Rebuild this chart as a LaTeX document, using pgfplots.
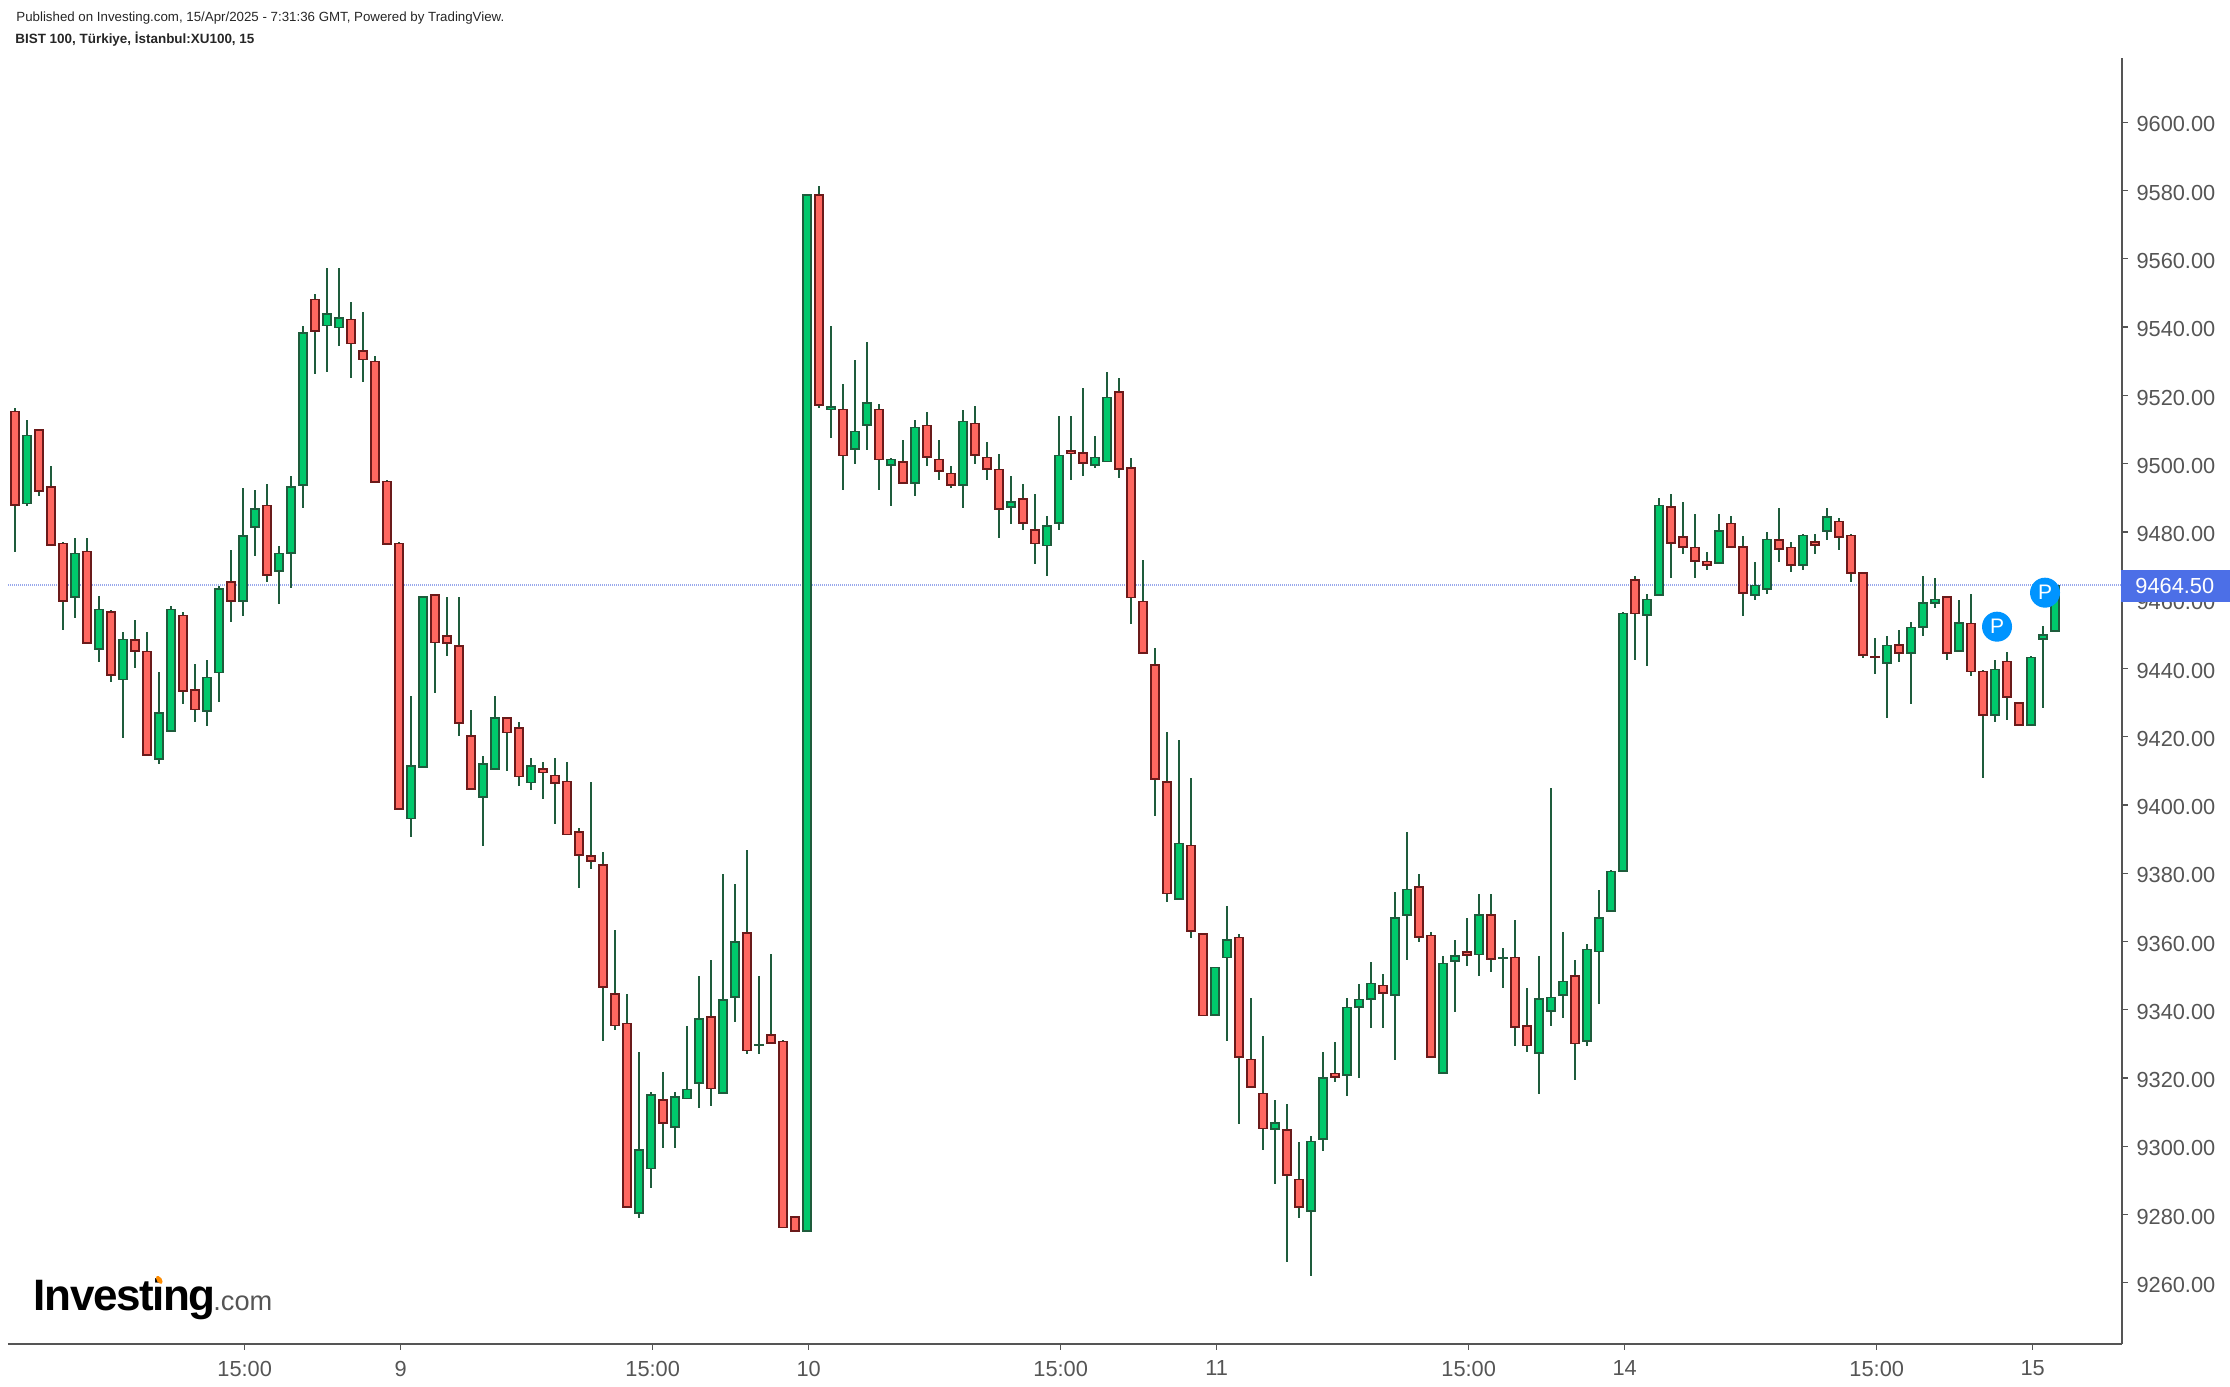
\documentclass[border=0pt]{standalone}
\usepackage{pgfplots}
\usepackage{pgfplotstable}
\usepackage{fontspec}
\pgfplotsset{compat=1.18}
\setmainfont{Liberation Sans}
\newfontfamily\logofont[LetterSpace=-3.2]{Liberation Sans}
\definecolor{gfill}{HTML}{00C96C}
\definecolor{gline}{HTML}{1E5C3C}
\definecolor{rfill}{HTML}{FF6760}
\definecolor{rline}{HTML}{6B1A1A}
\definecolor{axc}{HTML}{555555}
\definecolor{hl}{HTML}{98A8EC}
\definecolor{tag}{HTML}{4C6FE7}
\definecolor{pblue}{HTML}{0094FF}
\pgfplotstableread{
i l b t h
0 9474.1 9487.7 9515.6 9516.3
2 9490.5 9491.7 9510.2 9510.2
3 9476.0 9476.0 9493.4 9499.3
4 9451.3 9459.6 9476.9 9476.9
6 9447.2 9447.2 9474.6 9478.2
8 9436.0 9437.9 9457.0 9457.0
10 9440.1 9444.9 9448.8 9454.2
11 9414.5 9414.5 9445.2 9450.7
14 9429.6 9433.2 9455.8 9456.5
15 9424.2 9427.9 9434.0 9441.3
18 9453.6 9459.6 9465.7 9474.7
21 9465.3 9467.1 9488.0 9494.0
25 9526.2 9538.7 9548.4 9549.7
28 9525.0 9535.1 9542.6 9547.3
29 9523.9 9530.4 9533.3 9544.4
30 9494.6 9494.6 9530.3 9531.5
31 9476.4 9476.4 9495.1 9495.1
32 9398.7 9398.7 9476.9 9476.9
35 9432.7 9447.4 9461.7 9461.7
36 9443.7 9447.3 9449.9 9461.0
37 9420.2 9423.8 9446.9 9461.0
38 9404.6 9404.6 9420.6 9427.9
41 9409.8 9421.1 9425.9 9425.9
42 9405.6 9408.2 9422.9 9424.2
44 9401.6 9409.2 9410.7 9412.5
45 9394.5 9406.2 9409.0 9413.7
46 9391.2 9391.2 9407.2 9412.5
47 9375.7 9385.2 9392.5 9393.1
48 9381.1 9383.4 9385.5 9406.6
49 9330.7 9346.4 9382.6 9386.1
50 9334.1 9335.3 9345.1 9363.3
51 9282.0 9282.0 9336.2 9344.5
54 9299.4 9306.6 9313.9 9321.8
58 9311.9 9316.7 9338.1 9354.5
61 9327.1 9327.8 9362.7 9386.9
63 9330.1 9330.1 9332.8 9356.2
64 9276.0 9276.0 9331.0 9331.0
65 9275.0 9275.0 9279.5 9279.5
67 9516.3 9517.0 9578.9 9581.3
69 9492.2 9502.3 9516.2 9523.3
72 9492.2 9501.1 9516.2 9517.4
74 9494.1 9494.1 9500.9 9506.9
76 9499.3 9501.7 9511.5 9515.1
77 9495.2 9497.6 9501.5 9506.9
78 9492.8 9493.5 9497.4 9499.3
80 9499.9 9502.3 9512.1 9516.9
81 9495.2 9498.2 9502.1 9506.3
82 9478.2 9486.5 9498.6 9502.8
84 9480.5 9482.4 9489.8 9494.0
85 9470.6 9476.5 9481.0 9491.1
88 9495.2 9502.8 9504.0 9513.9
89 9496.3 9500.0 9503.3 9522.1
92 9495.8 9498.2 9521.4 9525.1
93 9453.0 9460.7 9499.2 9501.6
94 9444.3 9444.3 9459.9 9471.7
95 9396.7 9407.4 9441.2 9445.9
96 9371.6 9373.9 9407.2 9421.4
98 9361.0 9363.0 9388.5 9407.8
99 9338.2 9338.2 9362.6 9362.6
102 9306.5 9325.9 9361.5 9362.2
103 9317.2 9317.2 9325.7 9343.5
104 9298.9 9304.9 9315.7 9332.4
106 9266.0 9291.4 9305.1 9312.3
107 9279.0 9282.0 9290.5 9301.2
110 9318.9 9320.1 9321.6 9330.5
114 9334.6 9344.8 9347.4 9350.4
117 9359.8 9361.1 9376.2 9379.7
118 9325.9 9325.9 9362.0 9362.7
121 9352.8 9355.9 9357.3 9366.9
123 9351.1 9354.7 9367.9 9373.9
125 9329.4 9334.7 9355.6 9366.3
126 9327.6 9329.4 9335.7 9346.3
130 9319.4 9330.0 9350.3 9354.5
135 9442.5 9456.0 9466.4 9467.1
138 9466.5 9476.5 9487.5 9491.1
139 9473.5 9475.4 9478.7 9488.8
140 9466.5 9471.3 9475.8 9485.2
141 9468.8 9470.1 9471.7 9474.1
143 9475.4 9475.4 9482.8 9484.7
144 9455.4 9461.9 9475.8 9478.8
147 9471.2 9474.8 9478.1 9487.0
148 9468.2 9470.1 9475.8 9477.0
150 9473.5 9476.0 9477.5 9479.4
152 9474.7 9478.3 9483.4 9484.1
153 9465.3 9467.8 9479.3 9479.3
154 9443.0 9443.7 9468.1 9468.1
155 9438.4 9443.2 9443.6 9448.9
157 9441.9 9444.3 9447.1 9451.3
161 9442.5 9444.3 9461.1 9461.1
163 9437.8 9439.0 9453.5 9461.8
164 9407.9 9426.2 9439.4 9439.4
166 9424.9 9431.4 9442.4 9444.8
167 9423.2 9423.2 9430.1 9430.1
}\redtable
\pgfplotstableread{
i l b t h
1 9487.6 9488.2 9508.6 9512.7
5 9454.7 9460.7 9474.0 9478.2
7 9441.9 9445.4 9457.5 9461.2
9 9419.6 9436.6 9448.8 9450.7
12 9411.9 9413.3 9427.1 9439.0
13 9421.4 9421.4 9457.5 9458.2
16 9423.1 9427.3 9437.7 9442.4
17 9430.1 9438.5 9463.5 9464.1
19 9455.3 9459.6 9479.2 9492.9
20 9472.9 9481.2 9486.9 9492.2
22 9458.8 9468.3 9474.0 9475.8
23 9463.6 9473.6 9493.4 9496.4
24 9487.0 9493.5 9538.5 9540.3
26 9526.9 9540.4 9544.3 9557.3
27 9534.4 9539.8 9543.1 9557.3
33 9390.5 9395.8 9411.7 9432.0
34 9411.0 9411.0 9461.3 9461.3
39 9388.1 9402.2 9412.3 9414.3
40 9410.4 9410.4 9425.9 9432.0
43 9404.4 9406.4 9411.7 9413.7
52 9279.0 9280.3 9299.3 9327.5
53 9287.7 9293.2 9315.2 9315.8
55 9299.4 9305.4 9314.6 9315.8
56 9313.8 9313.8 9316.9 9335.1
57 9311.3 9318.3 9337.5 9349.8
59 9315.5 9315.5 9343.2 9379.8
60 9336.5 9343.6 9360.3 9376.8
62 9327.1 9329.4 9330.0 9349.8
66 9275.0 9275.0 9578.9 9578.9
68 9507.6 9515.8 9516.9 9540.3
70 9499.9 9504.1 9509.7 9530.3
71 9504.0 9511.1 9517.9 9535.5
73 9487.6 9499.4 9501.5 9501.5
75 9490.5 9494.1 9510.9 9512.8
79 9487.0 9493.5 9512.7 9515.7
83 9482.3 9487.1 9489.2 9496.3
86 9467.0 9475.9 9482.2 9484.6
87 9480.5 9482.4 9502.7 9513.9
90 9498.7 9499.4 9502.1 9508.1
91 9500.5 9500.5 9519.7 9526.8
97 9372.2 9372.2 9389.0 9419.1
100 9338.2 9338.2 9352.6 9352.6
101 9330.7 9355.2 9360.9 9370.4
105 9288.9 9304.9 9307.0 9313.5
108 9262.1 9280.8 9301.7 9303.1
109 9298.5 9302.0 9320.4 9327.6
111 9314.7 9320.7 9341.0 9343.5
112 9319.9 9340.6 9343.3 9347.5
113 9334.6 9342.9 9348.0 9353.9
115 9325.3 9344.1 9367.3 9374.5
116 9354.6 9367.5 9375.5 9392.1
119 9321.2 9321.2 9353.8 9355.8
120 9339.3 9354.1 9356.2 9360.5
122 9349.9 9355.9 9367.9 9373.9
124 9346.4 9354.9 9355.5 9358.1
127 9315.4 9327.1 9343.3 9355.7
128 9335.2 9339.4 9343.9 9404.9
129 9337.5 9344.1 9348.6 9362.7
131 9329.3 9330.6 9358.0 9359.2
132 9341.6 9357.0 9367.3 9375.0
133 9368.7 9368.7 9380.8 9380.8
134 9380.4 9380.4 9456.4 9456.4
136 9440.7 9455.5 9460.5 9461.8
137 9461.3 9461.3 9488.1 9489.9
142 9470.7 9470.7 9480.5 9485.2
145 9460.0 9461.3 9464.6 9471.2
146 9461.8 9463.1 9478.1 9480.0
149 9468.8 9470.1 9479.3 9479.3
151 9477.6 9480.1 9484.6 9487.0
156 9425.5 9441.4 9447.1 9449.5
158 9429.6 9444.3 9452.3 9453.6
159 9449.5 9451.9 9459.4 9467.1
160 9457.7 9459.0 9460.5 9466.5
162 9444.9 9444.9 9453.5 9460.0
165 9424.3 9426.2 9440.0 9442.5
168 9423.2 9423.2 9443.5 9443.5
169 9428.4 9448.4 9450.0 9452.3
170 9450.8 9450.8 9464.5 9464.5
}\greentable
\newcommand\candles[3]{%
  \addplot[draw=none,forget plot,mark=none,error bars/.cd,y dir=both,y explicit,error mark=none,
    error bar style={line width=0.82pt,color=gline}]
    table[x=i,y=b,y error plus expr={\thisrow{h}-\thisrow{b}},y error minus expr={\thisrow{b}-\thisrow{l}}]{#1};
  \addplot[draw=none,forget plot,mark=none,error bars/.cd,y dir=both,y explicit,error mark=none,
    error bar style={line width=4.67pt,color=#2}]
    table[x=i,y expr={(\thisrow{b}+\thisrow{t})/2},y error expr={(\thisrow{t}-\thisrow{b})/2}]{#1};
  \addplot[draw=none,forget plot,mark=none,error bars/.cd,y dir=both,y explicit,error mark=none,
    error bar style={line width=3.0pt,color=#3}]
    table[x=i,y expr={(\thisrow{b}+\thisrow{t})/2},y error expr={max((\thisrow{t}-\thisrow{b})/2-0.49,0)}]{#1};
}
\begin{document}
\begin{tikzpicture}
\useasboundingbox (0,0) rectangle (1115pt,693pt);
\begin{axis}[
  at={(4pt,21pt)},anchor=south west,
  scale only axis,width=1057pt,height=642.85pt,
  xmin=-0.583,xmax=175.583,ymin=9242.05,ymax=9618.75,
  axis x line=bottom,axis y line=right,
  axis line style={-,color=axc,line width=1pt},
  tick style={color=axc,line width=0.65pt},
  tick align=outside,major tick length=2.8pt,
  xtick={19.14,32.14,53.14,66.14,87.14,100.14,121.14,134.14,155.14,168.14},
  xticklabels={15:00,9,15:00,10,15:00,11,15:00,14,15:00,15},
  ytick={9260,9280,9300,9320,9340,9360,9380,9400,9420,9440,9460,9480,9500,9520,9540,9560,9580,9600},
  yticklabel style={/pgf/number format/fixed,/pgf/number format/fixed zerofill,/pgf/number format/precision=2,/pgf/number format/1000 sep={},/pgf/number format/assume math mode=true,xshift=0.9pt,yshift=-1.1pt},
  ticklabel style={font=\fontsize{10.9}{12}\selectfont,text=axc},
  x tick label style={yshift=-2.1pt},
  clip=false,
]
\addplot[forget plot,color=hl,line width=0.85pt,dash pattern=on 0.5pt off 0.5pt,mark=none] coordinates {(-0.583,9464.5) (175.583,9464.5)};
\candles{\redtable}{rline}{rfill}
\candles{\greentable}{gline}{gfill}
\end{axis}
\begin{scope}[x=0.5pt,y=-0.5pt,yshift=693pt]
\fill[tag] (2121,570) rectangle (2230,601.7);
\node[anchor=base west,inner sep=0,text=white,font=\fontsize{10.9}{12}\selectfont] at (2135,594) {9464.50};
\fill[pblue] (1997,626.7) circle (15);
\node[text=white,inner sep=0,font=\fontsize{10.5}{12}\selectfont] at (1997,626.7) {P};
\fill[pblue] (2045,592.7) circle (15);
\node[text=white,inner sep=0,font=\fontsize{10.5}{12}\selectfont] at (2045,592.7) {P};
\node[anchor=base west,inner sep=0,font=\fontsize{6.65}{8}\selectfont,text=black!85] at (16,22) {Published on Investing.com, 15/Apr/2025 - 7:31:36 GMT, Powered by TradingView.};
\node[anchor=base west,inner sep=0,font=\fontsize{6.72}{8}\selectfont\bfseries,text=black!85] at (15,44) {BIST 100, Türkiye, İstanbul:XU100, 15};
\node[anchor=base west,inner sep=0,font=\logofont\fontsize{22}{24}\selectfont\bfseries,text=black] (lg) at (33.5,1310) {Investing};
\node[anchor=base west,inner sep=0,font=\fontsize{13.6}{15}\selectfont,text=axc] at (213,1310) {.com};
\fill[orange!90!yellow,rotate around={35:(160.5,1279)}] (159,1279) ellipse (2.5 and 4.5);
\end{scope}
\end{tikzpicture}
\end{document}
